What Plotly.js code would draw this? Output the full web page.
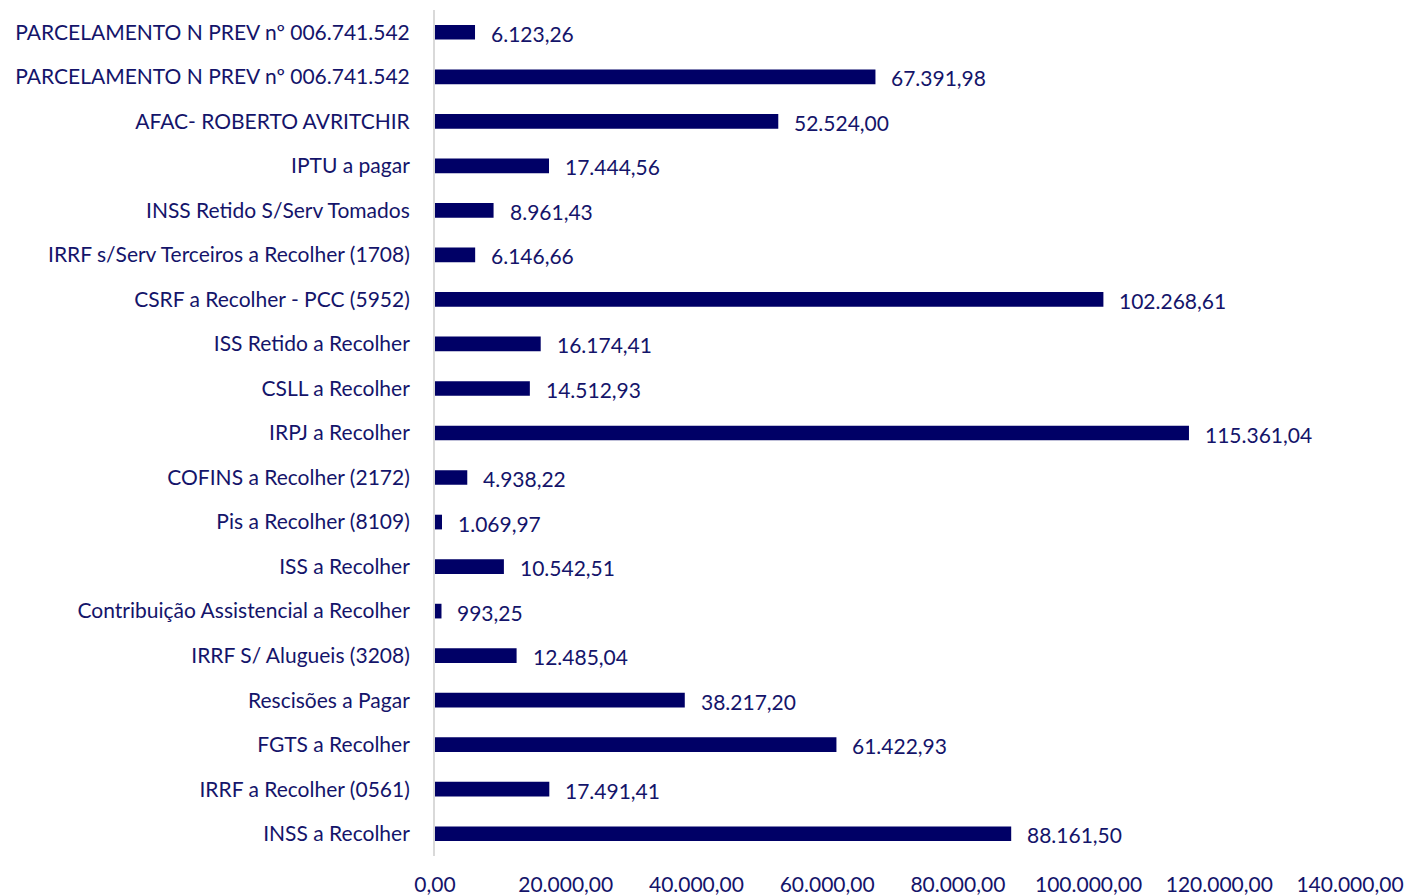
<!DOCTYPE html>
<html>
<head>
<meta charset="utf-8">
<script src="https://cdn.plot.ly/plotly-3.0.1.min.js"></script>
<style>html,body{margin:0;padding:0;background:#fff;}#chart{width:1407px;height:896px;}</style>
</head>
<body>
<div id="chart"></div>
<script>
const categories = [
  "PARCELAMENTO N PREV nº 006.741.542",
  "PARCELAMENTO N PREV nº 006.741.542",
  "AFAC- ROBERTO AVRITCHIR",
  "IPTU a pagar",
  "INSS Retido S/Serv Tomados",
  "IRRF s/Serv Terceiros a Recolher (1708)",
  "CSRF a Recolher - PCC (5952)",
  "ISS Retido a Recolher",
  "CSLL a Recolher",
  "IRPJ a Recolher",
  "COFINS a Recolher (2172)",
  "Pis a Recolher (8109)",
  "ISS a Recolher",
  "Contribuição Assistencial a Recolher",
  "IRRF S/ Alugueis (3208)",
  "Rescisões a Pagar",
  "FGTS a Recolher",
  "IRRF a Recolher (0561)",
  "INSS a Recolher"
];
const values = [
  6123.26, 67391.98, 52524.00, 17444.56, 8961.43, 6146.66, 102268.61,
  16174.41, 14512.93, 115361.04, 4938.22, 1069.97, 10542.51, 993.25,
  12485.04, 38217.20, 61422.93, 17491.41, 88161.50
];
const xTickValues = [0, 20000, 40000, 60000, 80000, 100000, 120000, 140000];

const navy = "#000066";
const textNavy = "#14146a";
const positions = categories.map((c, i) => i);

function fmtBR(v) {
  const parts = v.toFixed(2).split(".");
  parts[0] = parts[0].replace(/\B(?=(\d{3})+(?!\d))/g, ".");
  return parts[0] + "," + parts[1];
}

const trace = {
  type: "bar",
  orientation: "h",
  x: values,
  y: positions,
  width: 0.33,
  marker: {color: navy},
  hoverinfo: "none"
};

const annotations = values.map((v, i) => ({
  x: v, y: i, xref: "x", yref: "y",
  text: fmtBR(v),
  showarrow: false,
  xanchor: "left",
  yanchor: "middle",
  xshift: 14,
  yshift: -1,
  font: {family: "Lato, 'Open Sans', sans-serif", size: 21, color: textNavy}
}));

const layout = {
  width: 1407,
  height: 896,
  margin: {l: 435, r: 57, t: 10, b: 40},
  paper_bgcolor: "#fff",
  plot_bgcolor: "#fff",
  showlegend: false,
  separators: ",.",
  font: {family: "Lato, 'Open Sans', sans-serif", size: 21, color: textNavy},
  xaxis: {
    range: [0, 140000],
    tickvals: xTickValues,
    tickformat: ",.2f",
    showgrid: false,
    zeroline: false,
    showline: false,
    ticks: "",
    ticklabelstandoff: 14,
    tickfont: {family: "Lato, 'Open Sans', sans-serif", size: 21, color: textNavy},
    fixedrange: true
  },
  yaxis: {
    autorange: "reversed",
    tickvals: positions,
    ticktext: categories,
    showgrid: false,
    zeroline: false,
    showline: true,
    linecolor: "#d9d9d9",
    linewidth: 2,
    ticks: "",
    ticklabelstandoff: 19,
    tickfont: {family: "Lato, 'Open Sans', sans-serif", size: 21, color: textNavy},
    fixedrange: true
  },
  annotations: annotations
};

Plotly.newPlot("chart", [trace], layout, {displayModeBar: false, staticPlot: true});
</script>
</body>
</html>
